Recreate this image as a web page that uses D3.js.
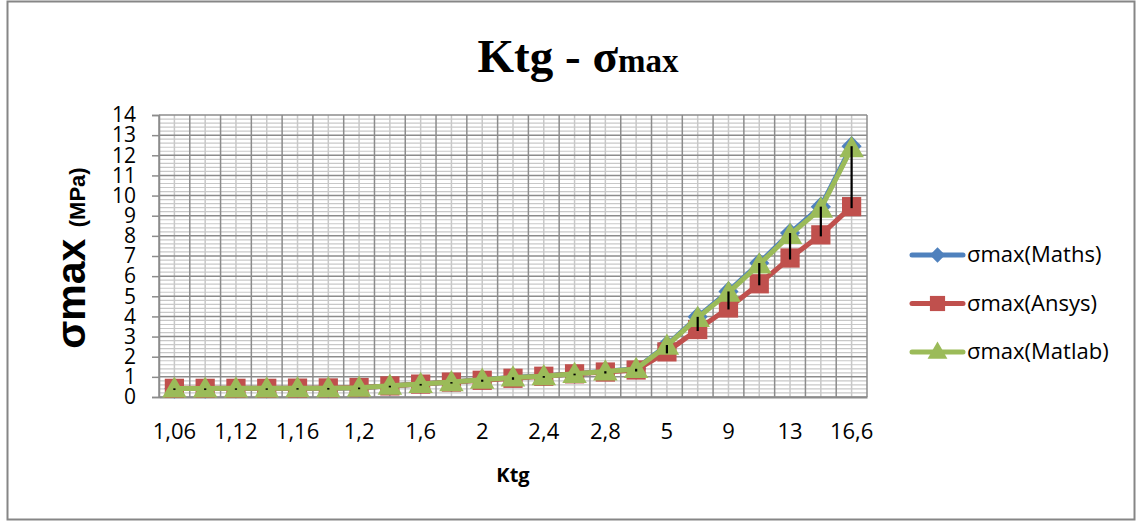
<!DOCTYPE html>
<html>
<head>
<meta charset="utf-8">
<script src="https://cdn.jsdelivr.net/npm/d3@7"></script>
<style>
  body { margin: 0; background: #fff; }
  svg { display: block; }
</style>
</head>
<body>
<div id="chart"></div>
<script>
// categories (Ktg) - only every second one gets a label
const categories = ["1,06", "1,09", "1,12", "1,14", "1,16", "1,18", "1,2", "1,4", "1,6", "1,8", "2", "2,2",
                    "2,4", "2,6", "2,8", "3", "5", "7", "9", "11", "13", "15", "16,6"];
const mathsValues  = [0.42, 0.42, 0.43, 0.43, 0.44, 0.44, 0.46, 0.56, 0.65, 0.74, 0.86, 0.98,
                      1.04, 1.16, 1.28, 1.40, 2.58, 3.98, 5.24, 6.65, 8.14, 9.45, 12.45];
const ansysValues  = [0.43, 0.43, 0.43, 0.43, 0.44, 0.45, 0.47, 0.55, 0.64, 0.74, 0.83, 0.93,
                      1.03, 1.15, 1.24, 1.34, 2.24, 3.35, 4.42, 5.62, 6.90, 8.05, 9.45];
const matlabValues = [0.42, 0.42, 0.43, 0.43, 0.44, 0.44, 0.46, 0.56, 0.65, 0.74, 0.86, 0.97,
                      1.03, 1.15, 1.27, 1.39, 2.55, 3.93, 5.18, 6.58, 8.05, 9.35, 12.35];
const seriesNames = ["σmax(Maths)", "σmax(Ansys)", "σmax(Matlab)"];
const yTicks = d3.range(0, 15, 1);

const width = 1142, height = 522;
const font = "'Open Sans', 'Liberation Sans', Arial, sans-serif";

const svg = d3.select('#chart')
  .append('svg')
  .attr('width', width)
  .attr('height', height);

// outer frame
svg.append('rect')
  .attr('x', 7.5).attr('y', 1.5)
  .attr('width', 1127).attr('height', 518)
  .attr('fill', '#fff')
  .attr('stroke', '#868686')
  .attr('stroke-width', 2);

const xScale = d3.scaleBand()
  .domain(categories)
  .range([159, 867]);

const yScale = d3.scaleLinear()
  .domain([0, 14])
  .range([397, 115]);

const plotL = 159, plotR = 867, plotT = 115, plotB = 397;

// minor horizontal gridlines
svg.append('g')
  .selectAll('line')
  .data(d3.range(0, 14.001, 0.2).filter(v => Math.abs(v - Math.round(v)) > 0.01))
  .enter()
  .append('line')
  .attr('x1', plotL).attr('x2', plotR)
  .attr('y1', d => yScale(d)).attr('y2', d => yScale(d))
  .attr('stroke', '#c8c8c8')
  .attr('stroke-width', 1.2);

// minor vertical gridlines (category centres)
svg.append('g')
  .selectAll('line')
  .data(categories)
  .enter()
  .append('line')
  .attr('x1', d => xScale(d) + xScale.bandwidth() / 2)
  .attr('x2', d => xScale(d) + xScale.bandwidth() / 2)
  .attr('y1', plotT).attr('y2', plotB)
  .attr('stroke', '#c8c8c8')
  .attr('stroke-width', 1.5);

// major vertical gridlines (category boundaries)
svg.append('g')
  .selectAll('line')
  .data(categories.concat(['end']))
  .enter()
  .append('line')
  .attr('x1', (d, i) => plotL + i * xScale.bandwidth())
  .attr('x2', (d, i) => plotL + i * xScale.bandwidth())
  .attr('y1', plotT).attr('y2', plotB)
  .attr('stroke', '#8c8c8c')
  .attr('stroke-width', 1.5);

// major horizontal gridlines
svg.append('g')
  .selectAll('line')
  .data(yTicks)
  .enter()
  .append('line')
  .attr('x1', plotL).attr('x2', plotR)
  .attr('y1', d => yScale(d)).attr('y2', d => yScale(d))
  .attr('stroke', '#8c8c8c')
  .attr('stroke-width', 1.5);

// y axis
const yAxis = svg.append('g')
  .attr('transform', `translate(${plotL},0)`)
  .call(d3.axisLeft(yScale).tickValues(yTicks).tickSize(7).tickPadding(4));
yAxis.selectAll('line').attr('stroke', '#8c8c8c').attr('stroke-width', 1.5);
yAxis.select('.domain').attr('stroke', '#8c8c8c').attr('stroke-width', 1.5);
yAxis.selectAll('text')
  .attr('font-family', font)
  .attr('font-size', 21)
  .attr('fill', '#000')
  .attr('dx', -12);

// x axis
const xAxis = svg.append('g')
  .attr('transform', `translate(0,${plotB})`)
  .call(d3.axisBottom(xScale).tickSize(0).tickPadding(26)
    .tickFormat((d, i) => i % 2 === 0 ? d : ''));
xAxis.select('.domain').attr('stroke', '#8c8c8c').attr('stroke-width', 2);
xAxis.selectAll('text')
  .attr('font-family', font)
  .attr('font-size', 22)
  .attr('fill', '#000');

const cx = d => xScale(d) + xScale.bandwidth() / 2;
const colors = ['#4F81BD', '#C0504D', '#9BBB59'];
const allValues = [mathsValues, ansysValues, matlabValues];

const line = d3.line()
  .x((d, i) => cx(categories[i]))
  .y(d => yScale(d));

const diamond = d3.symbol().type(d3.symbolDiamond2).size(260);
const square = d3.symbol().type(d3.symbolSquare).size(370);
const triangle = d3.symbol().type(d3.symbolTriangle).size(260);
const markers = [diamond, square, triangle];

allValues.forEach((vals, s) => {
  const g = svg.append('g');
  g.append('path')
    .datum(vals)
    .attr('d', line)
    .attr('fill', 'none')
    .attr('stroke', colors[s])
    .attr('stroke-width', 5)
    .attr('stroke-linejoin', 'round');
  g.selectAll('path.m')
    .data(vals)
    .enter()
    .append('path')
    .attr('class', 'm')
    .attr('transform', (d, i) => `translate(${cx(categories[i])},${yScale(d) + (s === 2 ? 2 : 0)})`)
    .attr('d', markers[s]())
    .attr('fill', colors[s]);
});

// high-low lines
svg.append('g')
  .selectAll('line')
  .data(categories)
  .enter()
  .append('line')
  .attr('x1', d => cx(d)).attr('x2', d => cx(d))
  .attr('y1', (d, i) => yScale(Math.max(mathsValues[i], ansysValues[i], matlabValues[i])))
  .attr('y2', (d, i) => yScale(Math.min(mathsValues[i], ansysValues[i], matlabValues[i])) + 1.5)
  .attr('stroke', '#000')
  .attr('stroke-width', 2.2);

// title
const title = svg.append('text')
  .attr('x', 578).attr('y', 72)
  .attr('text-anchor', 'middle')
  .attr('font-family', "'Liberation Serif', 'Times New Roman', serif")
  .attr('font-weight', 'bold')
  .attr('fill', '#000');
title.append('tspan').attr('font-size', 47).text('Ktg - σ');
title.append('tspan').attr('font-size', 33).text('max');

// y title
const yTitle = svg.append('text')
  .attr('transform', 'translate(85,258) rotate(-90)')
  .attr('text-anchor', 'middle')
  .attr('font-family', "'Liberation Sans', Arial, sans-serif")
  .attr('font-weight', 'bold')
  .attr('fill', '#000');
yTitle.append('tspan').attr('font-size', 41).text('σmax ');
yTitle.append('tspan').attr('font-size', 22).text('(MPa)');

// x title
svg.append('text')
  .attr('x', 513).attr('y', 482)
  .attr('text-anchor', 'middle')
  .attr('font-family', font)
  .attr('font-weight', 'bold')
  .attr('font-size', 20)
  .attr('fill', '#000')
  .text('Ktg');

// legend
const legendMarkers = [
  d3.symbol().type(d3.symbolDiamond2).size(150),
  d3.symbol().type(d3.symbolSquare).size(230),
  d3.symbol().type(d3.symbolTriangle).size(170)
];
const legend = svg.append('g');
seriesNames.forEach((name, s) => {
  const yy = 255 + s * 48.5;
  legend.append('line')
    .attr('x1', 912).attr('x2', 963)
    .attr('y1', yy).attr('y2', yy)
    .attr('stroke', colors[s])
    .attr('stroke-width', 5)
    .attr('stroke-linecap', 'round');
  legend.append('path')
    .attr('transform', `translate(937.5,${yy + (s === 2 ? 1 : 0)})`)
    .attr('d', legendMarkers[s]())
    .attr('fill', colors[s]);
  legend.append('text')
    .attr('x', 967).attr('y', yy + 7)
    .attr('font-family', font)
    .attr('font-size', 22)
    .attr('fill', '#000')
    .text(name);
});
</script>
</body>
</html>
